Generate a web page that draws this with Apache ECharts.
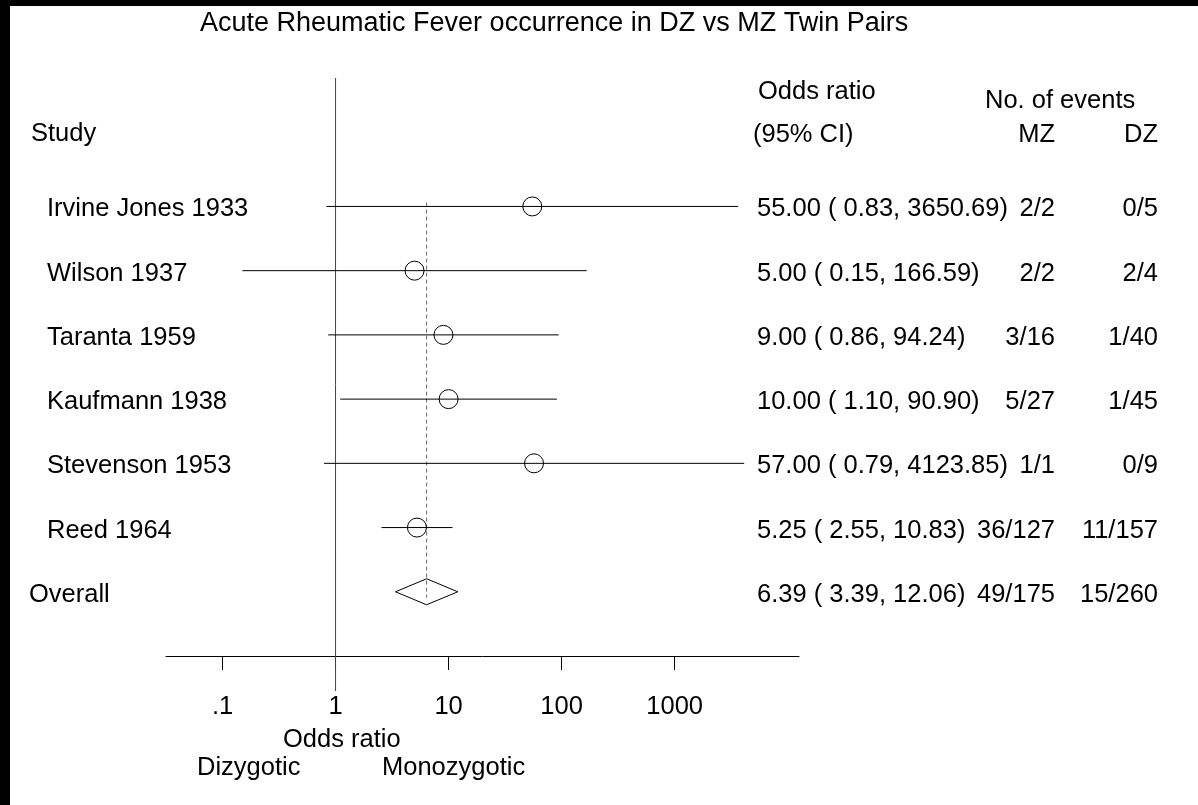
<!DOCTYPE html>
<html>
<head>
<meta charset="utf-8">
<script src="https://cdn.jsdelivr.net/npm/echarts@6/dist/echarts.min.js"></script>
<style>
html,body{margin:0;padding:0;background:#fff;}
#chart{width:1198px;height:805px;}
</style>
</head>
<body>
<div id="chart"></div>
<script>
// ---- data ----
const titleText = 'Acute Rheumatic Fever occurrence in DZ vs MZ Twin Pairs';
const studies = ['Irvine Jones 1933', 'Wilson 1937', 'Taranta 1959', 'Kaufmann 1938', 'Stevenson 1953', 'Reed 1964'];
const oddsRatio = [55.00, 5.00, 9.00, 10.00, 57.00, 5.25];
const ciLow = [0.83, 0.15, 0.86, 1.10, 0.79, 2.55];
const ciHigh = [3650.69, 166.59, 94.24, 90.90, 4123.85, 10.83];
const eventsMZ = ['2/2', '2/2', '3/16', '5/27', '1/1', '36/127'];
const eventsDZ = ['0/5', '2/4', '1/40', '1/45', '0/9', '11/157'];
const overallLabel = 'Overall';
const overallOR = 6.39;
const overallLow = 3.39;
const overallHigh = 12.06;
const overallMZ = '49/175';
const overallDZ = '15/260';
const tickValues = [0.1, 1, 10, 100, 1000];
const tickLabels = ['.1', '1', '10', '100', '1000'];

// ---- helpers ----
const FONT = '"Liberation Sans", Arial, Helvetica, sans-serif';
const FS = 25.5;
const lg = v => Math.log10(v);
const fmtOR = (o, l, h) => o.toFixed(2) + ' ( ' + l.toFixed(2) + ', ' + h.toFixed(2) + ')';

const rows = studies.map((s, i) => ({
  name: s, or: oddsRatio[i], lo: ciLow[i], hi: ciHigh[i], mz: eventsMZ[i], dz: eventsDZ[i], overall: false
}));
rows.push({ name: overallLabel, or: overallOR, lo: overallLow, hi: overallHigh, mz: overallMZ, dz: overallDZ, overall: true });

const chart = echarts.init(document.getElementById('chart'), null, { renderer: 'canvas' });

const txt = (text, x, y, align, size) => ({
  type: 'text', x: x, y: y,
  style: { text: text, fill: '#000', font: (size || FS) + 'px ' + FONT, textAlign: align || 'left', textVerticalAlign: 'middle' }
});

const option = {
  animation: false,
  backgroundColor: '#fff',
  grid: { left: 166, right: 399, top: 78, bottom: 149, containLabel: false },
  xAxis: {
    type: 'value', min: -1.5, max: 4.1,
    axisLine: { show: true, onZero: false, lineStyle: { color: '#000', width: 1 } },
    axisTick: { show: true, customValues: tickValues.map(lg), length: 14, lineStyle: { color: '#000', width: 1 } },
    axisLabel: {
      show: true, customValues: tickValues.map(lg), margin: 38,
      color: '#000', fontSize: FS, fontFamily: FONT,
      formatter: v => { const k = tickValues.findIndex(t => Math.abs(lg(t) - v) < 1e-6); return k >= 0 ? tickLabels[k] : ''; }
    },
    splitLine: { show: false }
  },
  yAxis: { type: 'value', min: -2, max: 7, inverse: true, show: false, splitLine: { show: false } },
  graphic: [
    { type: 'rect', shape: { x: 0, y: 0, width: 10, height: 805 }, style: { fill: '#000' }, z: 100 },
    { type: 'rect', shape: { x: 0, y: 0, width: 1198, height: 6 }, style: { fill: '#000' }, z: 100 },
    txt(titleText, 200, 24, 'left', 27),
    txt('Study', 31, 134),
    txt('Odds ratio', 758, 92),
    txt('(95% CI)', 753, 135),
    txt('No. of events', 985, 101),
    txt('MZ', 1055, 135, 'right'),
    txt('DZ', 1158, 135, 'right'),
    txt('Odds ratio', 283, 740),
    txt('Dizygotic', 197, 768),
    txt('Monozygotic', 382, 768)
  ],
  series: [
    // reference vertical line at OR = 1
    {
      type: 'custom', silent: true, z: 1,
      data: [[0]],
      renderItem: (params, api) => {
        const top = api.coord([0, -2]);
        const bot = api.coord([0, 7]);
        return { type: 'line', shape: { x1: top[0], y1: top[1], x2: bot[0], y2: bot[1] + 35 },
          style: { stroke: '#444', lineWidth: 1 } };
      }
    },
    // dashed line at overall estimate
    {
      type: 'custom', silent: true, z: 2,
      data: [[lg(overallOR)]],
      renderItem: (params, api) => {
        const x = api.value(0);
        const a = api.coord([x, -0.06]);
        const b = api.coord([x, rows.length - 1]);
        return { type: 'line', shape: { x1: a[0], y1: a[1], x2: b[0], y2: b[1] + 6 },
          style: { stroke: '#666', lineWidth: 1, lineDash: [4, 3] } };
      }
    },
    // confidence interval lines
    {
      type: 'custom', silent: true, z: 3,
      data: rows.filter(r => !r.overall).map((r, i) => [lg(r.lo), lg(r.hi), i]),
      renderItem: (params, api) => {
        const a = api.coord([api.value(0), api.value(2)]);
        const b = api.coord([api.value(1), api.value(2)]);
        return { type: 'line', shape: { x1: a[0], y1: a[1], x2: b[0], y2: b[1] },
          style: { stroke: '#000', lineWidth: 1 } };
      }
    },
    // point estimates
    {
      type: 'scatter', silent: true, z: 4,
      symbol: 'circle', symbolSize: 19,
      itemStyle: { color: 'rgba(255,255,255,0)', borderColor: '#000', borderWidth: 1, opacity: 1 },
      data: rows.filter(r => !r.overall).map((r, i) => [lg(r.or), i])
    },
    // overall diamond
    {
      type: 'custom', silent: true, z: 5,
      data: [[lg(overallLow), lg(overallOR), lg(overallHigh), rows.length - 1]],
      renderItem: (params, api) => {
        const y = api.value(3);
        const l = api.coord([api.value(0), y]);
        const m = api.coord([api.value(1), y]);
        const h = api.coord([api.value(2), y]);
        const hh = 13;
        return { type: 'polygon', shape: { points: [[l[0], l[1]], [m[0], m[1] - hh], [h[0], h[1]], [m[0], m[1] + hh]] },
          style: { fill: 'rgba(255,255,255,0)', stroke: '#000', lineWidth: 1 } };
      }
    },
    // table text
    {
      type: 'custom', silent: true, z: 6,
      data: rows.map((r, i) => [0, i]),
      renderItem: (params, api) => {
        const r = rows[params.dataIndex];
        const y = api.coord([0, api.value(1)])[1] + 3;
        const mk = (text, x, align) => ({ type: 'text', x: x, y: y,
          style: { text: text, fill: '#000', font: FS + 'px ' + FONT, textAlign: align, textVerticalAlign: 'middle' } });
        return { type: 'group', children: [
          mk(r.name, r.overall ? 29 : 47, 'left'),
          mk(fmtOR(r.or, r.lo, r.hi), 757, 'left'),
          mk(r.mz, 1055, 'right'),
          mk(r.dz, 1158, 'right')
        ] };
      }
    }
  ]
};
chart.setOption(option);
</script>
</body>
</html>
